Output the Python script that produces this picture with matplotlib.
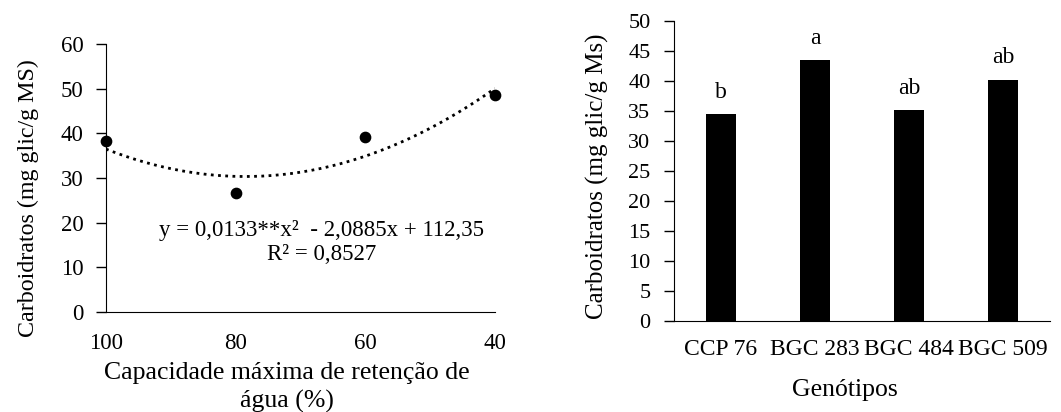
import numpy as np
import matplotlib
matplotlib.use('Agg')
import matplotlib.pyplot as plt

plt.rcParams['font.family'] = ['Liberation Serif', 'DejaVu Serif']

# retenção de água x carboidratos
cmr = [100, 80, 60, 40]
carb = [38.3, 26.6, 39.1, 48.7]
coef = [0.0133, -2.0885, 112.35]

# genótipos
genotipos = ['CCP 76', 'BGC 283', 'BGC 484', 'BGC 509']
carb_gen = [34.4, 43.4, 35.1, 40.2]
letras = ['b', 'a', 'ab', 'ab']

fig = plt.figure(figsize=(10.61, 4.12), dpi=100)

ax1 = fig.add_axes([0.0999, 0.2427, 0.3666, 0.650])
xs = np.linspace(100, 40, 200)
ax1.plot(xs, np.polyval(coef, xs), color='black', linestyle=(0, (1, 1.6)), linewidth=2)
ax1.scatter(cmr, carb, s=55, color='black', zorder=3, clip_on=False)
ax1.set_xlim(100, 40)
ax1.set_ylim(0, 60)
ax1.set_xticks(cmr)
ax1.set_yticks(range(0, 61, 10))
ax1.spines['top'].set_visible(False)
ax1.spines['right'].set_visible(False)
ax1.tick_params(axis='x', length=0, pad=15, labelsize=16.5)
ax1.tick_params(axis='y', length=7, width=1, pad=9, labelsize=16.5)
ax1.set_ylabel('Carboidratos (mg glic/g MS)', fontsize=17.3, labelpad=16)
ax1.yaxis.label.set_y(0.425)
ax1.set_xlabel('Capacidade máxima de retenção de\nágua (%)', fontsize=18.5, labelpad=6, linespacing=1.3)
ax1.xaxis.label.set_x(0.465)
ax1.text(0.555, 0.306, 'y = 0,0133**x²  - 2,0885x + 112,35', transform=ax1.transAxes,
         ha='center', va='center', fontsize=16.5)
ax1.text(0.555, 0.213, 'R² = 0,8527', transform=ax1.transAxes,
         ha='center', va='center', fontsize=16.5)

ax2 = fig.add_axes([0.6353, 0.2216, 0.3544, 0.728])
pos = np.arange(len(genotipos))
ax2.bar(pos, carb_gen, width=0.31, color='black')
for p, v, l in zip(pos, carb_gen, letras):
    ax2.annotate(l, (p, v), xytext=(0, 8), textcoords='offset points',
                 ha='center', va='bottom', fontsize=17)
ax2.set_xlim(-0.5, 3.5)
ax2.set_ylim(0, 50)
ax2.set_yticks(range(0, 51, 5))
ax2.set_xticks(pos)
ax2.set_xticklabels(genotipos)
ax2.spines['top'].set_visible(False)
ax2.spines['right'].set_visible(False)
ax2.tick_params(axis='x', length=0, pad=13, labelsize=17)
ax2.tick_params(axis='y', length=7, width=1, pad=10, labelsize=16)
ax2.set_ylabel('Carboidratos (mg glic/g Ms)', fontsize=18, labelpad=14)
ax2.yaxis.label.set_y(0.48)
ax2.set_xlabel('Genótipos', fontsize=18.5, labelpad=14)
ax2.xaxis.label.set_x(0.455)

fig.savefig('out.png', dpi=100)
